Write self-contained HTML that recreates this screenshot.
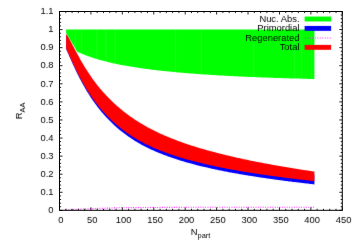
<!DOCTYPE html>
<html><head><meta charset="utf-8"><title>RAA</title>
<style>
html,body{margin:0;padding:0;background:#fff;}
body{width:357px;height:250px;overflow:hidden;}
svg{display:block;}
text{font-family:"Liberation Sans",sans-serif;font-size:9.4px;fill:#000;}
</style></head><body>
<svg width="357" height="250" viewBox="0 0 357 250">
<defs><filter id="b" x="0" y="0" width="357" height="250" filterUnits="userSpaceOnUse" color-interpolation-filters="sRGB"><feConvolveMatrix order="3" kernelMatrix="0.0053 0.0619 0.0053 0.0619 0.7312 0.0619 0.0053 0.0619 0.0053" divisor="1" edgeMode="none" preserveAlpha="false"/></filter></defs>
<rect width="357" height="250" fill="#fff"/>
<g filter="url(#b)">
<polygon points="66.1,29.6 67.0,29.6 68.0,29.6 69.0,29.6 70.0,29.6 71.0,29.6 72.0,29.6 73.0,29.6 74.0,29.6 75.0,29.6 76.0,29.6 77.0,29.6 78.0,29.6 79.0,29.6 80.0,29.6 81.0,29.6 82.0,29.6 83.0,29.6 84.0,29.6 85.0,29.6 86.0,29.6 87.0,29.6 88.0,29.6 89.0,29.6 90.0,29.6 91.0,29.6 92.0,29.6 93.0,29.6 94.0,29.6 95.0,29.6 96.0,29.6 97.0,29.6 98.0,29.6 99.0,29.6 100.0,29.6 101.0,29.6 102.0,29.6 103.0,29.6 104.0,29.6 105.0,29.6 106.0,29.6 107.0,29.6 108.0,29.6 109.0,29.6 110.0,29.6 111.0,29.6 112.0,29.6 113.0,29.6 114.0,29.6 115.0,29.6 116.0,29.6 117.0,29.6 118.0,29.6 119.0,29.6 120.0,29.6 121.0,29.6 122.0,29.6 123.0,29.6 124.0,29.6 125.0,29.6 126.0,29.6 127.0,29.6 128.0,29.6 129.0,29.6 130.0,29.6 131.0,29.6 132.0,29.6 133.0,29.6 134.0,29.6 135.0,29.6 136.0,29.6 137.0,29.6 138.0,29.6 139.0,29.6 140.0,29.6 141.0,29.6 142.0,29.6 143.0,29.6 144.0,29.6 145.0,29.6 146.0,29.6 147.0,29.6 148.0,29.6 149.0,29.6 150.0,29.6 151.0,29.6 152.0,29.6 153.0,29.6 154.0,29.6 155.0,29.6 156.0,29.6 157.0,29.6 158.0,29.6 159.0,29.6 160.0,29.6 161.0,29.6 162.0,29.6 163.0,29.6 164.0,29.6 165.0,29.6 166.0,29.6 167.0,29.6 168.0,29.6 169.0,29.6 170.0,29.6 171.0,29.6 172.0,29.6 173.0,29.6 174.0,29.6 175.0,29.6 176.0,29.6 177.0,29.6 178.0,29.6 179.0,29.6 180.0,29.6 181.0,29.6 182.0,29.6 183.0,29.6 184.0,29.6 185.0,29.6 186.0,29.6 187.0,29.6 188.0,29.6 189.0,29.6 190.0,29.6 191.0,29.6 192.0,29.6 193.0,29.6 194.0,29.6 195.0,29.6 196.0,29.6 197.0,29.6 198.0,29.6 199.0,29.6 200.0,29.6 201.0,29.6 202.0,29.6 203.0,29.6 204.0,29.6 205.0,29.6 206.0,29.6 207.0,29.6 208.0,29.6 209.0,29.6 210.0,29.6 211.0,29.6 212.0,29.6 213.0,29.6 214.0,29.6 215.0,29.6 216.0,29.6 217.0,29.6 218.0,29.6 219.0,29.6 220.0,29.6 221.0,29.6 222.0,29.6 223.0,29.6 224.0,29.6 225.0,29.6 226.0,29.6 227.0,29.6 228.0,29.6 229.0,29.6 230.0,29.6 231.0,29.6 232.0,29.6 233.0,29.6 234.0,29.6 235.0,29.6 236.0,29.6 237.0,29.6 238.0,29.6 239.0,29.6 240.0,29.6 241.0,29.6 242.0,29.6 243.0,29.6 244.0,29.6 245.0,29.6 246.0,29.6 247.0,29.6 248.0,29.6 249.0,29.6 250.0,29.6 251.0,29.6 252.0,29.6 253.0,29.6 254.0,29.6 255.0,29.6 256.0,29.6 257.0,29.6 258.0,29.6 259.0,29.6 260.0,29.6 261.0,29.6 262.0,29.6 263.0,29.6 264.0,29.6 265.0,29.6 266.0,29.6 267.0,29.6 268.0,29.6 269.0,29.6 270.0,29.6 271.0,29.6 272.0,29.6 273.0,29.6 274.0,29.6 275.0,29.6 276.0,29.6 277.0,29.6 278.0,29.6 279.0,29.6 280.0,29.6 281.0,29.6 282.0,29.6 283.0,29.6 284.0,29.6 285.0,29.6 286.0,29.6 287.0,29.6 288.0,29.6 289.0,29.6 290.0,29.6 291.0,29.6 292.0,29.6 293.0,29.6 294.0,29.6 295.0,29.6 296.0,29.6 297.0,29.6 298.0,29.6 299.0,29.6 300.0,29.6 301.0,29.6 302.0,29.6 303.0,29.6 304.0,29.6 305.0,29.6 306.0,29.6 307.0,29.6 308.0,29.6 309.0,29.6 310.0,29.6 311.0,29.6 312.0,29.6 313.0,29.6 314.4,29.6 314.4,79.0 313.0,79.0 312.0,79.0 311.0,78.9 310.0,78.9 309.0,78.9 308.0,78.9 307.0,78.8 306.0,78.8 305.0,78.8 304.0,78.8 303.0,78.7 302.0,78.7 301.0,78.7 300.0,78.6 299.0,78.6 298.0,78.6 297.0,78.6 296.0,78.5 295.0,78.5 294.0,78.5 293.0,78.5 292.0,78.4 291.0,78.4 290.0,78.4 289.0,78.3 288.0,78.3 287.0,78.3 286.0,78.2 285.0,78.2 284.0,78.2 283.0,78.2 282.0,78.1 281.0,78.1 280.0,78.1 279.0,78.0 278.0,78.0 277.0,78.0 276.0,77.9 275.0,77.9 274.0,77.9 273.0,77.8 272.0,77.8 271.0,77.8 270.0,77.7 269.0,77.7 268.0,77.6 267.0,77.6 266.0,77.6 265.0,77.5 264.0,77.5 263.0,77.5 262.0,77.4 261.0,77.4 260.0,77.3 259.0,77.3 258.0,77.3 257.0,77.2 256.0,77.2 255.0,77.1 254.0,77.1 253.0,77.1 252.0,77.0 251.0,77.0 250.0,76.9 249.0,76.9 248.0,76.9 247.0,76.8 246.0,76.8 245.0,76.7 244.0,76.7 243.0,76.6 242.0,76.6 241.0,76.5 240.0,76.5 239.0,76.4 238.0,76.4 237.0,76.3 236.0,76.3 235.0,76.2 234.0,76.2 233.0,76.1 232.0,76.1 231.0,76.0 230.0,76.0 229.0,75.9 228.0,75.9 227.0,75.8 226.0,75.8 225.0,75.7 224.0,75.7 223.0,75.6 222.0,75.6 221.0,75.5 220.0,75.4 219.0,75.4 218.0,75.3 217.0,75.3 216.0,75.2 215.0,75.1 214.0,75.1 213.0,75.0 212.0,75.0 211.0,74.9 210.0,74.8 209.0,74.8 208.0,74.7 207.0,74.6 206.0,74.6 205.0,74.5 204.0,74.4 203.0,74.4 202.0,74.3 201.0,74.2 200.0,74.2 199.0,74.1 198.0,74.0 197.0,73.9 196.0,73.9 195.0,73.8 194.0,73.7 193.0,73.6 192.0,73.6 191.0,73.5 190.0,73.4 189.0,73.3 188.0,73.3 187.0,73.2 186.0,73.1 185.0,73.0 184.0,72.9 183.0,72.8 182.0,72.8 181.0,72.7 180.0,72.6 179.0,72.5 178.0,72.4 177.0,72.3 176.0,72.2 175.0,72.1 174.0,72.0 173.0,71.9 172.0,71.8 171.0,71.7 170.0,71.6 169.0,71.5 168.0,71.4 167.0,71.3 166.0,71.2 165.0,71.1 164.0,71.0 163.0,70.9 162.0,70.8 161.0,70.7 160.0,70.6 159.0,70.5 158.0,70.4 157.0,70.3 156.0,70.1 155.0,70.0 154.0,69.9 153.0,69.8 152.0,69.7 151.0,69.5 150.0,69.4 149.0,69.3 148.0,69.1 147.0,69.0 146.0,68.9 145.0,68.7 144.0,68.6 143.0,68.5 142.0,68.3 141.0,68.2 140.0,68.0 139.0,67.9 138.0,67.7 137.0,67.6 136.0,67.4 135.0,67.3 134.0,67.1 133.0,67.0 132.0,66.8 131.0,66.6 130.0,66.5 129.0,66.3 128.0,66.1 127.0,66.0 126.0,65.8 125.0,65.6 124.0,65.4 123.0,65.2 122.0,65.0 121.0,64.9 120.0,64.7 119.0,64.5 118.0,64.3 117.0,64.1 116.0,63.9 115.0,63.6 114.0,63.4 113.0,63.2 112.0,63.0 111.0,62.8 110.0,62.5 109.0,62.3 108.0,62.0 107.0,61.8 106.0,61.6 105.0,61.3 104.0,61.0 103.0,60.8 102.0,60.5 101.0,60.2 100.0,60.0 99.0,59.7 98.0,59.4 97.0,59.1 96.0,58.8 95.0,58.5 94.0,58.2 93.0,57.8 92.0,57.5 91.0,57.2 90.0,56.8 89.0,56.5 88.0,56.1 87.0,55.7 86.0,55.4 85.0,55.0 84.0,54.6 83.0,54.2 82.0,53.8 81.0,53.3 80.0,52.9 79.0,52.4 78.0,52.0 77.0,51.4 76.0,49.7 75.0,48.0 74.0,46.3 73.0,44.6 72.0,43.0 71.0,41.3 70.0,39.6 69.0,37.9 68.0,36.2 67.0,34.5 66.1,33.0" fill="#00ff00"/>
<polygon points="66.1,34.2 67.0,35.6 68.0,37.3 69.0,39.1 70.0,41.0 71.0,42.9 72.0,44.9 73.0,46.8 74.0,48.8 75.0,50.7 76.0,52.6 77.0,54.6 78.0,56.4 79.0,58.3 80.0,60.1 81.0,61.9 82.0,63.7 83.0,65.4 84.0,67.1 85.0,68.8 86.0,70.4 87.0,72.0 88.0,73.6 89.0,75.2 90.0,76.7 91.0,78.2 92.0,79.6 93.0,81.1 94.0,82.5 95.0,83.9 96.0,85.2 97.0,86.5 98.0,87.8 99.0,89.1 100.0,90.4 101.0,91.6 102.0,92.8 103.0,94.0 104.0,95.1 105.0,96.3 106.0,97.4 107.0,98.5 108.0,99.5 109.0,100.6 110.0,101.6 111.0,102.6 112.0,103.6 113.0,104.6 114.0,105.6 115.0,106.5 116.0,107.5 117.0,108.4 118.0,109.3 119.0,110.2 120.0,111.1 121.0,111.9 122.0,112.8 123.0,113.6 124.0,114.4 125.0,115.2 126.0,116.0 127.0,116.7 128.0,117.5 129.0,118.2 130.0,119.0 131.0,119.7 132.0,120.4 133.0,121.1 134.0,121.8 135.0,122.4 136.0,123.1 137.0,123.7 138.0,124.4 139.0,125.0 140.0,125.6 141.0,126.2 142.0,126.8 143.0,127.4 144.0,128.0 145.0,128.6 146.0,129.2 147.0,129.7 148.0,130.3 149.0,130.8 150.0,131.4 151.0,131.9 152.0,132.4 153.0,132.9 154.0,133.4 155.0,133.9 156.0,134.4 157.0,134.9 158.0,135.4 159.0,135.9 160.0,136.3 161.0,136.8 162.0,137.3 163.0,137.7 164.0,138.1 165.0,138.6 166.0,139.0 167.0,139.4 168.0,139.9 169.0,140.3 170.0,140.7 171.0,141.1 172.0,141.5 173.0,141.9 174.0,142.3 175.0,142.7 176.0,143.1 177.0,143.5 178.0,143.8 179.0,144.2 180.0,144.6 181.0,145.0 182.0,145.3 183.0,145.7 184.0,146.0 185.0,146.4 186.0,146.7 187.0,147.1 188.0,147.4 189.0,147.7 190.0,148.1 191.0,148.4 192.0,148.7 193.0,149.1 194.0,149.4 195.0,149.7 196.0,150.0 197.0,150.3 198.0,150.6 199.0,150.9 200.0,151.2 201.0,151.5 202.0,151.8 203.0,152.1 204.0,152.4 205.0,152.7 206.0,153.0 207.0,153.3 208.0,153.6 209.0,153.8 210.0,154.1 211.0,154.4 212.0,154.7 213.0,154.9 214.0,155.2 215.0,155.5 216.0,155.7 217.0,156.0 218.0,156.2 219.0,156.5 220.0,156.7 221.0,157.0 222.0,157.3 223.0,157.5 224.0,157.7 225.0,158.0 226.0,158.2 227.0,158.5 228.0,158.7 229.0,159.0 230.0,159.2 231.0,159.4 232.0,159.7 233.0,159.9 234.0,160.1 235.0,160.4 236.0,160.6 237.0,160.8 238.0,161.0 239.0,161.3 240.0,161.5 241.0,161.7 242.0,161.9 243.0,162.1 244.0,162.3 245.0,162.6 246.0,162.8 247.0,163.0 248.0,163.2 249.0,163.4 250.0,163.6 251.0,163.8 252.0,164.0 253.0,164.2 254.0,164.4 255.0,164.6 256.0,164.8 257.0,165.0 258.0,165.2 259.0,165.4 260.0,165.6 261.0,165.8 262.0,166.0 263.0,166.2 264.0,166.4 265.0,166.6 266.0,166.8 267.0,166.9 268.0,167.1 269.0,167.3 270.0,167.5 271.0,167.7 272.0,167.9 273.0,168.0 274.0,168.2 275.0,168.4 276.0,168.6 277.0,168.8 278.0,168.9 279.0,169.1 280.0,169.3 281.0,169.5 282.0,169.6 283.0,169.8 284.0,170.0 285.0,170.1 286.0,170.3 287.0,170.5 288.0,170.6 289.0,170.8 290.0,171.0 291.0,171.1 292.0,171.3 293.0,171.5 294.0,171.6 295.0,171.8 296.0,172.0 297.0,172.1 298.0,172.3 299.0,172.4 300.0,172.6 301.0,172.7 302.0,172.9 303.0,173.1 304.0,173.2 305.0,173.4 306.0,173.5 307.0,173.7 308.0,173.8 309.0,174.0 310.0,174.1 311.0,174.3 312.0,174.4 313.0,174.6 314.4,174.8 314.4,184.4 313.0,184.2 312.0,184.1 311.0,184.0 310.0,183.9 309.0,183.8 308.0,183.6 307.0,183.5 306.0,183.4 305.0,183.3 304.0,183.2 303.0,183.1 302.0,182.9 301.0,182.8 300.0,182.7 299.0,182.6 298.0,182.5 297.0,182.3 296.0,182.2 295.0,182.1 294.0,182.0 293.0,181.9 292.0,181.7 291.0,181.6 290.0,181.5 289.0,181.4 288.0,181.2 287.0,181.1 286.0,181.0 285.0,180.9 284.0,180.7 283.0,180.6 282.0,180.5 281.0,180.3 280.0,180.2 279.0,180.1 278.0,179.9 277.0,179.8 276.0,179.7 275.0,179.5 274.0,179.4 273.0,179.3 272.0,179.1 271.0,179.0 270.0,178.8 269.0,178.7 268.0,178.6 267.0,178.4 266.0,178.3 265.0,178.1 264.0,178.0 263.0,177.8 262.0,177.7 261.0,177.5 260.0,177.4 259.0,177.2 258.0,177.1 257.0,176.9 256.0,176.8 255.0,176.6 254.0,176.5 253.0,176.3 252.0,176.1 251.0,176.0 250.0,175.8 249.0,175.7 248.0,175.5 247.0,175.3 246.0,175.2 245.0,175.0 244.0,174.8 243.0,174.7 242.0,174.5 241.0,174.3 240.0,174.2 239.0,174.0 238.0,173.8 237.0,173.6 236.0,173.5 235.0,173.3 234.0,173.1 233.0,172.9 232.0,172.7 231.0,172.5 230.0,172.4 229.0,172.2 228.0,172.0 227.0,171.8 226.0,171.6 225.0,171.4 224.0,171.2 223.0,171.0 222.0,170.8 221.0,170.6 220.0,170.4 219.0,170.2 218.0,170.0 217.0,169.8 216.0,169.6 215.0,169.4 214.0,169.1 213.0,168.9 212.0,168.7 211.0,168.5 210.0,168.3 209.0,168.0 208.0,167.8 207.0,167.6 206.0,167.3 205.0,167.1 204.0,166.9 203.0,166.6 202.0,166.4 201.0,166.2 200.0,165.9 199.0,165.7 198.0,165.4 197.0,165.2 196.0,164.9 195.0,164.6 194.0,164.4 193.0,164.1 192.0,163.8 191.0,163.6 190.0,163.3 189.0,163.0 188.0,162.7 187.0,162.5 186.0,162.2 185.0,161.9 184.0,161.6 183.0,161.3 182.0,161.0 181.0,160.7 180.0,160.4 179.0,160.1 178.0,159.8 177.0,159.4 176.0,159.1 175.0,158.8 174.0,158.5 173.0,158.1 172.0,157.8 171.0,157.4 170.0,157.1 169.0,156.7 168.0,156.4 167.0,156.0 166.0,155.6 165.0,155.3 164.0,154.9 163.0,154.5 162.0,154.1 161.0,153.7 160.0,153.3 159.0,152.9 158.0,152.5 157.0,152.1 156.0,151.7 155.0,151.2 154.0,150.8 153.0,150.3 152.0,149.9 151.0,149.4 150.0,148.9 149.0,148.5 148.0,148.0 147.0,147.5 146.0,147.0 145.0,146.5 144.0,146.0 143.0,145.4 142.0,144.9 141.0,144.4 140.0,143.8 139.0,143.2 138.0,142.7 137.0,142.1 136.0,141.5 135.0,140.9 134.0,140.2 133.0,139.6 132.0,139.0 131.0,138.3 130.0,137.6 129.0,137.0 128.0,136.3 127.0,135.6 126.0,134.8 125.0,134.1 124.0,133.3 123.0,132.6 122.0,131.8 121.0,131.0 120.0,130.2 119.0,129.4 118.0,128.5 117.0,127.7 116.0,126.8 115.0,125.9 114.0,125.0 113.0,124.0 112.0,123.1 111.0,122.1 110.0,121.1 109.0,120.1 108.0,119.1 107.0,118.0 106.0,116.9 105.0,115.8 104.0,114.7 103.0,113.6 102.0,112.4 101.0,111.2 100.0,110.0 99.0,108.7 98.0,107.5 97.0,106.2 96.0,104.8 95.0,103.5 94.0,102.1 93.0,100.7 92.0,99.2 91.0,97.7 90.0,96.2 89.0,94.6 88.0,93.0 87.0,91.4 86.0,89.7 85.0,88.0 84.0,86.3 83.0,84.5 82.0,82.7 81.0,80.8 80.0,78.9 79.0,77.0 78.0,75.0 77.0,72.9 76.0,70.9 75.0,68.8 74.0,66.6 73.0,64.4 72.0,62.2 71.0,60.0 70.0,57.7 69.0,55.4 68.0,53.1 67.0,50.9 66.1,48.8" fill="#0000ff"/>
<polyline points="66.1,210.0 67.0,209.9 68.0,209.8 69.0,209.8 70.0,209.7 71.0,209.6 72.0,209.5 73.0,209.5 74.0,209.4 75.0,209.3 76.0,209.3 77.0,209.3 78.0,209.2 79.0,209.2 80.0,209.1 81.0,209.1 82.0,209.1 83.0,209.0 84.0,209.0 85.0,209.0 86.0,208.9 87.0,208.9 88.0,208.8 89.0,208.8 90.0,208.8 91.0,208.7 92.0,208.7 93.0,208.6 94.0,208.6 95.0,208.5 96.0,208.5 97.0,208.5 98.0,208.4 99.0,208.4 100.0,208.3 101.0,208.3 102.0,208.3 103.0,208.3 104.0,208.2 105.0,208.2 106.0,208.2 107.0,208.1 108.0,208.1 109.0,208.1 110.0,208.1 111.0,208.0 112.0,208.0 113.0,208.0 114.0,207.9 115.0,207.9 116.0,207.9 117.0,207.9 118.0,207.8 119.0,207.8 120.0,207.8 121.0,207.8 122.0,207.7 123.0,207.7 124.0,207.7 125.0,207.7 126.0,207.7 127.0,207.7 128.0,207.7 129.0,207.6 130.0,207.6 131.0,207.6 132.0,207.6 133.0,207.6 134.0,207.6 135.0,207.6 136.0,207.6 137.0,207.6 138.0,207.6 139.0,207.6 140.0,207.6 141.0,207.6 142.0,207.5 143.0,207.5 144.0,207.5 145.0,207.5 146.0,207.5 147.0,207.5 148.0,207.5 149.0,207.5 150.0,207.5 151.0,207.5 152.0,207.5 153.0,207.5 154.0,207.5 155.0,207.5 156.0,207.5 157.0,207.5 158.0,207.5 159.0,207.5 160.0,207.4 161.0,207.4 162.0,207.4 163.0,207.4 164.0,207.4 165.0,207.4 166.0,207.4 167.0,207.4 168.0,207.4 169.0,207.4 170.0,207.4 171.0,207.4 172.0,207.4 173.0,207.4 174.0,207.4 175.0,207.4 176.0,207.4 177.0,207.4 178.0,207.4 179.0,207.4 180.0,207.3 181.0,207.3 182.0,207.3 183.0,207.3 184.0,207.3 185.0,207.3 186.0,207.3 187.0,207.3 188.0,207.3 189.0,207.3 190.0,207.3 191.0,207.3 192.0,207.3 193.0,207.3 194.0,207.3 195.0,207.3 196.0,207.3 197.0,207.3 198.0,207.3 199.0,207.3 200.0,207.3 201.0,207.3 202.0,207.3 203.0,207.3 204.0,207.3 205.0,207.3 206.0,207.3 207.0,207.3 208.0,207.3 209.0,207.3 210.0,207.3 211.0,207.3 212.0,207.2 213.0,207.2 214.0,207.2 215.0,207.2 216.0,207.2 217.0,207.2 218.0,207.2 219.0,207.2 220.0,207.2 221.0,207.2 222.0,207.2 223.0,207.2 224.0,207.2 225.0,207.2 226.0,207.2 227.0,207.2 228.0,207.2 229.0,207.2 230.0,207.2 231.0,207.2 232.0,207.2 233.0,207.2 234.0,207.2 235.0,207.2 236.0,207.2 237.0,207.2 238.0,207.2 239.0,207.2 240.0,207.2 241.0,207.2 242.0,207.2 243.0,207.2 244.0,207.2 245.0,207.2 246.0,207.2 247.0,207.2 248.0,207.2 249.0,207.2 250.0,207.2 251.0,207.2 252.0,207.2 253.0,207.2 254.0,207.2 255.0,207.2 256.0,207.2 257.0,207.2 258.0,207.2 259.0,207.2 260.0,207.2 261.0,207.2 262.0,207.2 263.0,207.2 264.0,207.2 265.0,207.2 266.0,207.2 267.0,207.2 268.0,207.2 269.0,207.2 270.0,207.2 271.0,207.2 272.0,207.2 273.0,207.2 274.0,207.2 275.0,207.2 276.0,207.2 277.0,207.2 278.0,207.2 279.0,207.2 280.0,207.2 281.0,207.2 282.0,207.2 283.0,207.2 284.0,207.2 285.0,207.2 286.0,207.2 287.0,207.2 288.0,207.2 289.0,207.2 290.0,207.2 291.0,207.2 292.0,207.2 293.0,207.2 294.0,207.2 295.0,207.2 296.0,207.2 297.0,207.2 298.0,207.2 299.0,207.2 300.0,207.2 301.0,207.2 302.0,207.2 303.0,207.2 304.0,207.2 305.0,207.2 306.0,207.2 307.0,207.2 308.0,207.2 309.0,207.2 310.0,207.2 311.0,207.2 312.0,207.2 313.0,207.2 314.4,207.2" fill="none" stroke="#ff00ff" stroke-width="1.1" stroke-dasharray="0.9 1.5"/>
<polygon points="66.1,33.9 67.0,35.2 68.0,36.8 69.0,38.5 70.0,40.3 71.0,42.2 72.0,44.0 73.0,45.9 74.0,47.8 75.0,49.7 76.0,51.6 77.0,53.5 78.0,55.3 79.0,57.1 80.0,58.9 81.0,60.7 82.0,62.4 83.0,64.1 84.0,65.8 85.0,67.4 86.0,69.0 87.0,70.6 88.0,72.1 89.0,73.6 90.0,75.1 91.0,76.5 92.0,78.0 93.0,79.4 94.0,80.7 95.0,82.1 96.0,83.4 97.0,84.7 98.0,85.9 99.0,87.2 100.0,88.4 101.0,89.6 102.0,90.7 103.0,91.9 104.0,93.0 105.0,94.1 106.0,95.2 107.0,96.3 108.0,97.3 109.0,98.3 110.0,99.3 111.0,100.3 112.0,101.3 113.0,102.2 114.0,103.2 115.0,104.1 116.0,105.0 117.0,105.9 118.0,106.8 119.0,107.6 120.0,108.5 121.0,109.3 122.0,110.1 123.0,110.9 124.0,111.7 125.0,112.5 126.0,113.3 127.0,114.0 128.0,114.8 129.0,115.5 130.0,116.2 131.0,116.9 132.0,117.6 133.0,118.3 134.0,119.0 135.0,119.7 136.0,120.3 137.0,121.0 138.0,121.6 139.0,122.2 140.0,122.8 141.0,123.4 142.0,124.0 143.0,124.6 144.0,125.2 145.0,125.8 146.0,126.3 147.0,126.9 148.0,127.4 149.0,128.0 150.0,128.5 151.0,129.0 152.0,129.6 153.0,130.1 154.0,130.6 155.0,131.1 156.0,131.5 157.0,132.0 158.0,132.5 159.0,133.0 160.0,133.4 161.0,133.9 162.0,134.3 163.0,134.8 164.0,135.2 165.0,135.7 166.0,136.1 167.0,136.5 168.0,136.9 169.0,137.3 170.0,137.7 171.0,138.2 172.0,138.6 173.0,138.9 174.0,139.3 175.0,139.7 176.0,140.1 177.0,140.5 178.0,140.9 179.0,141.2 180.0,141.6 181.0,141.9 182.0,142.3 183.0,142.7 184.0,143.0 185.0,143.4 186.0,143.7 187.0,144.0 188.0,144.4 189.0,144.7 190.0,145.0 191.0,145.4 192.0,145.7 193.0,146.0 194.0,146.3 195.0,146.6 196.0,146.9 197.0,147.2 198.0,147.6 199.0,147.9 200.0,148.2 201.0,148.5 202.0,148.7 203.0,149.0 204.0,149.3 205.0,149.6 206.0,149.9 207.0,150.2 208.0,150.5 209.0,150.7 210.0,151.0 211.0,151.3 212.0,151.6 213.0,151.8 214.0,152.1 215.0,152.3 216.0,152.6 217.0,152.9 218.0,153.1 219.0,153.4 220.0,153.6 221.0,153.9 222.0,154.1 223.0,154.4 224.0,154.6 225.0,154.9 226.0,155.1 227.0,155.4 228.0,155.6 229.0,155.8 230.0,156.1 231.0,156.3 232.0,156.5 233.0,156.8 234.0,157.0 235.0,157.2 236.0,157.4 237.0,157.7 238.0,157.9 239.0,158.1 240.0,158.3 241.0,158.6 242.0,158.8 243.0,159.0 244.0,159.2 245.0,159.4 246.0,159.6 247.0,159.8 248.0,160.0 249.0,160.2 250.0,160.5 251.0,160.7 252.0,160.9 253.0,161.1 254.0,161.3 255.0,161.5 256.0,161.7 257.0,161.9 258.0,162.1 259.0,162.2 260.0,162.4 261.0,162.6 262.0,162.8 263.0,163.0 264.0,163.2 265.0,163.4 266.0,163.6 267.0,163.8 268.0,164.0 269.0,164.1 270.0,164.3 271.0,164.5 272.0,164.7 273.0,164.9 274.0,165.0 275.0,165.2 276.0,165.4 277.0,165.6 278.0,165.7 279.0,165.9 280.0,166.1 281.0,166.3 282.0,166.4 283.0,166.6 284.0,166.8 285.0,167.0 286.0,167.1 287.0,167.3 288.0,167.5 289.0,167.6 290.0,167.8 291.0,167.9 292.0,168.1 293.0,168.3 294.0,168.4 295.0,168.6 296.0,168.8 297.0,168.9 298.0,169.1 299.0,169.2 300.0,169.4 301.0,169.5 302.0,169.7 303.0,169.9 304.0,170.0 305.0,170.2 306.0,170.3 307.0,170.5 308.0,170.6 309.0,170.8 310.0,170.9 311.0,171.1 312.0,171.2 313.0,171.4 314.4,171.6 314.4,181.2 313.0,181.0 312.0,180.9 311.0,180.8 310.0,180.7 309.0,180.6 308.0,180.4 307.0,180.3 306.0,180.2 305.0,180.1 304.0,180.0 303.0,179.9 302.0,179.7 301.0,179.6 300.0,179.5 299.0,179.4 298.0,179.3 297.0,179.2 296.0,179.0 295.0,178.9 294.0,178.8 293.0,178.7 292.0,178.5 291.0,178.4 290.0,178.3 289.0,178.2 288.0,178.0 287.0,177.9 286.0,177.8 285.0,177.7 284.0,177.5 283.0,177.4 282.0,177.3 281.0,177.1 280.0,177.0 279.0,176.9 278.0,176.7 277.0,176.6 276.0,176.5 275.0,176.3 274.0,176.2 273.0,176.1 272.0,175.9 271.0,175.8 270.0,175.7 269.0,175.5 268.0,175.4 267.0,175.2 266.0,175.1 265.0,174.9 264.0,174.8 263.0,174.7 262.0,174.5 261.0,174.4 260.0,174.2 259.0,174.1 258.0,173.9 257.0,173.8 256.0,173.6 255.0,173.5 254.0,173.3 253.0,173.1 252.0,173.0 251.0,172.8 250.0,172.7 249.0,172.5 248.0,172.3 247.0,172.2 246.0,172.0 245.0,171.9 244.0,171.7 243.0,171.5 242.0,171.4 241.0,171.2 240.0,171.0 239.0,170.8 238.0,170.7 237.0,170.5 236.0,170.3 235.0,170.1 234.0,170.0 233.0,169.8 232.0,169.6 231.0,169.4 230.0,169.2 229.0,169.0 228.0,168.9 227.0,168.7 226.0,168.5 225.0,168.3 224.0,168.1 223.0,167.9 222.0,167.7 221.0,167.5 220.0,167.3 219.0,167.1 218.0,166.9 217.0,166.7 216.0,166.5 215.0,166.3 214.0,166.0 213.0,165.8 212.0,165.6 211.0,165.4 210.0,165.2 209.0,164.9 208.0,164.7 207.0,164.5 206.0,164.3 205.0,164.0 204.0,163.8 203.0,163.6 202.0,163.3 201.0,163.1 200.0,162.8 199.0,162.6 198.0,162.3 197.0,162.1 196.0,161.8 195.0,161.6 194.0,161.3 193.0,161.1 192.0,160.8 191.0,160.5 190.0,160.3 189.0,160.0 188.0,159.7 187.0,159.4 186.0,159.2 185.0,158.9 184.0,158.6 183.0,158.3 182.0,158.0 181.0,157.7 180.0,157.4 179.0,157.1 178.0,156.8 177.0,156.5 176.0,156.1 175.0,155.8 174.0,155.5 173.0,155.2 172.0,154.8 171.0,154.5 170.0,154.1 169.0,153.8 168.0,153.4 167.0,153.1 166.0,152.7 165.0,152.3 164.0,152.0 163.0,151.6 162.0,151.2 161.0,150.8 160.0,150.4 159.0,150.0 158.0,149.6 157.0,149.2 156.0,148.8 155.0,148.3 154.0,147.9 153.0,147.5 152.0,147.0 151.0,146.6 150.0,146.1 149.0,145.6 148.0,145.1 147.0,144.7 146.0,144.2 145.0,143.7 144.0,143.2 143.0,142.6 142.0,142.1 141.0,141.6 140.0,141.0 139.0,140.5 138.0,139.9 137.0,139.3 136.0,138.7 135.0,138.1 134.0,137.5 133.0,136.9 132.0,136.2 131.0,135.6 130.0,134.9 129.0,134.3 128.0,133.6 127.0,132.9 126.0,132.2 125.0,131.4 124.0,130.7 123.0,129.9 122.0,129.2 121.0,128.4 120.0,127.6 119.0,126.8 118.0,126.0 117.0,125.2 116.0,124.3 115.0,123.4 114.0,122.6 113.0,121.7 112.0,120.7 111.0,119.8 110.0,118.8 109.0,117.8 108.0,116.8 107.0,115.8 106.0,114.8 105.0,113.7 104.0,112.6 103.0,111.5 102.0,110.3 101.0,109.2 100.0,108.0 99.0,106.8 98.0,105.5 97.0,104.3 96.0,103.0 95.0,101.7 94.0,100.3 93.0,98.9 92.0,97.5 91.0,96.1 90.0,94.6 89.0,93.1 88.0,91.5 87.0,89.9 86.0,88.3 85.0,86.6 84.0,84.9 83.0,83.2 82.0,81.4 81.0,79.6 80.0,77.7 79.0,75.8 78.0,73.8 77.0,71.9 76.0,69.8 75.0,67.8 74.0,65.7 73.0,63.5 72.0,61.4 71.0,59.2 70.0,57.0 69.0,54.8 68.0,52.6 67.0,50.4 66.1,48.5" fill="#ff0000"/>
<path d="M75.3,29.9V48.2" stroke="#fff" stroke-opacity="0.16" stroke-width="0.7"/><path d="M75.3,50.7V68.2" stroke="#4040ff" stroke-opacity="0.14" stroke-width="0.7"/><path d="M81.8,29.9V53.4" stroke="#fff" stroke-opacity="0.16" stroke-width="0.7"/><path d="M81.8,62.5V80.8" stroke="#4040ff" stroke-opacity="0.14" stroke-width="0.7"/><path d="M97.0,29.9V58.8" stroke="#fff" stroke-opacity="0.16" stroke-width="0.7"/><path d="M97.0,85.1V104.1" stroke="#4040ff" stroke-opacity="0.14" stroke-width="0.7"/><path d="M106.0,29.9V61.3" stroke="#fff" stroke-opacity="0.16" stroke-width="0.7"/><path d="M106.0,95.6V114.6" stroke="#4040ff" stroke-opacity="0.14" stroke-width="0.7"/><path d="M115.2,29.9V63.4" stroke="#fff" stroke-opacity="0.16" stroke-width="0.7"/><path d="M115.2,104.7V123.4" stroke="#4040ff" stroke-opacity="0.14" stroke-width="0.7"/><path d="M175.5,29.9V71.9" stroke="#fff" stroke-opacity="0.16" stroke-width="0.7"/><path d="M175.5,140.3V155.8" stroke="#4040ff" stroke-opacity="0.14" stroke-width="0.7"/><path d="M201.3,29.9V74.0" stroke="#fff" stroke-opacity="0.16" stroke-width="0.7"/><path d="M201.3,148.9V163.0" stroke="#4040ff" stroke-opacity="0.14" stroke-width="0.7"/><path d="M253.8,29.9V76.8" stroke="#fff" stroke-opacity="0.16" stroke-width="0.7"/><path d="M253.8,161.6V173.1" stroke="#4040ff" stroke-opacity="0.14" stroke-width="0.7"/><path d="M294.7,29.9V78.2" stroke="#fff" stroke-opacity="0.16" stroke-width="0.7"/><path d="M294.7,168.9V178.7" stroke="#4040ff" stroke-opacity="0.14" stroke-width="0.7"/><path d="M301.7,29.9V78.4" stroke="#fff" stroke-opacity="0.16" stroke-width="0.7"/><path d="M301.7,170.1V179.5" stroke="#4040ff" stroke-opacity="0.14" stroke-width="0.7"/><path d="M311.3,29.9V78.6" stroke="#fff" stroke-opacity="0.16" stroke-width="0.7"/><path d="M311.3,171.5V180.6" stroke="#4040ff" stroke-opacity="0.14" stroke-width="0.7"/>
</g>
<g>
<path d="M59.50,210.35v-3.0M59.50,11.5v3.0M65.78,210.35v-1.6M65.78,11.5v1.6M72.07,210.35v-1.6M72.07,11.5v1.6M78.35,210.35v-1.6M78.35,11.5v1.6M84.64,210.35v-1.6M84.64,11.5v1.6M90.92,210.35v-3.0M90.92,11.5v3.0M97.21,210.35v-1.6M97.21,11.5v1.6M103.49,210.35v-1.6M103.49,11.5v1.6M109.78,210.35v-1.6M109.78,11.5v1.6M116.06,210.35v-1.6M116.06,11.5v1.6M122.34,210.35v-3.0M122.34,11.5v3.0M128.63,210.35v-1.6M128.63,11.5v1.6M134.91,210.35v-1.6M134.91,11.5v1.6M141.20,210.35v-1.6M141.20,11.5v1.6M147.48,210.35v-1.6M147.48,11.5v1.6M153.77,210.35v-3.0M153.77,11.5v3.0M160.05,210.35v-1.6M160.05,11.5v1.6M166.34,210.35v-1.6M166.34,11.5v1.6M172.62,210.35v-1.6M172.62,11.5v1.6M178.90,210.35v-1.6M178.90,11.5v1.6M185.19,210.35v-3.0M185.19,11.5v3.0M191.47,210.35v-1.6M191.47,11.5v1.6M197.76,210.35v-1.6M197.76,11.5v1.6M204.04,210.35v-1.6M204.04,11.5v1.6M210.33,210.35v-1.6M210.33,11.5v1.6M216.61,210.35v-3.0M216.61,11.5v3.0M222.90,210.35v-1.6M222.90,11.5v1.6M229.18,210.35v-1.6M229.18,11.5v1.6M235.46,210.35v-1.6M235.46,11.5v1.6M241.75,210.35v-1.6M241.75,11.5v1.6M248.03,210.35v-3.0M248.03,11.5v3.0M254.32,210.35v-1.6M254.32,11.5v1.6M260.60,210.35v-1.6M260.60,11.5v1.6M266.89,210.35v-1.6M266.89,11.5v1.6M273.17,210.35v-1.6M273.17,11.5v1.6M279.46,210.35v-3.0M279.46,11.5v3.0M285.74,210.35v-1.6M285.74,11.5v1.6M292.02,210.35v-1.6M292.02,11.5v1.6M298.31,210.35v-1.6M298.31,11.5v1.6M304.59,210.35v-1.6M304.59,11.5v1.6M310.88,210.35v-3.0M310.88,11.5v3.0M317.16,210.35v-1.6M317.16,11.5v1.6M323.45,210.35v-1.6M323.45,11.5v1.6M329.73,210.35v-1.6M329.73,11.5v1.6M336.02,210.35v-1.6M336.02,11.5v1.6M342.30,210.35v-3.0M342.30,11.5v3.0M59.5,210.35h3.0M342.3,210.35h-3.0M59.5,206.73h1.6M342.3,206.73h-1.6M59.5,203.12h1.6M342.3,203.12h-1.6M59.5,199.50h1.6M342.3,199.50h-1.6M59.5,195.89h1.6M342.3,195.89h-1.6M59.5,192.27h3.0M342.3,192.27h-3.0M59.5,188.66h1.6M342.3,188.66h-1.6M59.5,185.04h1.6M342.3,185.04h-1.6M59.5,181.43h1.6M342.3,181.43h-1.6M59.5,177.81h1.6M342.3,177.81h-1.6M59.5,174.20h3.0M342.3,174.20h-3.0M59.5,170.58h1.6M342.3,170.58h-1.6M59.5,166.96h1.6M342.3,166.96h-1.6M59.5,163.35h1.6M342.3,163.35h-1.6M59.5,159.73h1.6M342.3,159.73h-1.6M59.5,156.12h3.0M342.3,156.12h-3.0M59.5,152.50h1.6M342.3,152.50h-1.6M59.5,148.89h1.6M342.3,148.89h-1.6M59.5,145.27h1.6M342.3,145.27h-1.6M59.5,141.66h1.6M342.3,141.66h-1.6M59.5,138.04h3.0M342.3,138.04h-3.0M59.5,134.43h1.6M342.3,134.43h-1.6M59.5,130.81h1.6M342.3,130.81h-1.6M59.5,127.19h1.6M342.3,127.19h-1.6M59.5,123.58h1.6M342.3,123.58h-1.6M59.5,119.96h3.0M342.3,119.96h-3.0M59.5,116.35h1.6M342.3,116.35h-1.6M59.5,112.73h1.6M342.3,112.73h-1.6M59.5,109.12h1.6M342.3,109.12h-1.6M59.5,105.50h1.6M342.3,105.50h-1.6M59.5,101.89h3.0M342.3,101.89h-3.0M59.5,98.27h1.6M342.3,98.27h-1.6M59.5,94.66h1.6M342.3,94.66h-1.6M59.5,91.04h1.6M342.3,91.04h-1.6M59.5,87.42h1.6M342.3,87.42h-1.6M59.5,83.81h3.0M342.3,83.81h-3.0M59.5,80.19h1.6M342.3,80.19h-1.6M59.5,76.58h1.6M342.3,76.58h-1.6M59.5,72.96h1.6M342.3,72.96h-1.6M59.5,69.35h1.6M342.3,69.35h-1.6M59.5,65.73h3.0M342.3,65.73h-3.0M59.5,62.12h1.6M342.3,62.12h-1.6M59.5,58.50h1.6M342.3,58.50h-1.6M59.5,54.89h1.6M342.3,54.89h-1.6M59.5,51.27h1.6M342.3,51.27h-1.6M59.5,47.65h3.0M342.3,47.65h-3.0M59.5,44.04h1.6M342.3,44.04h-1.6M59.5,40.42h1.6M342.3,40.42h-1.6M59.5,36.81h1.6M342.3,36.81h-1.6M59.5,33.19h1.6M342.3,33.19h-1.6M59.5,29.58h3.0M342.3,29.58h-3.0M59.5,25.96h1.6M342.3,25.96h-1.6M59.5,22.35h1.6M342.3,22.35h-1.6M59.5,18.73h1.6M342.3,18.73h-1.6M59.5,15.12h1.6M342.3,15.12h-1.6M59.5,11.50h3.0M342.3,11.50h-3.0" stroke="#000" stroke-width="0.85" fill="none"/>
<rect x="59.5" y="11.5" width="282.8" height="198.8" fill="none" stroke="#000" stroke-width="1"/>
</g>
<g filter="url(#b)">
<rect x="304.6" y="16.55" width="26.5" height="4.9" fill="#00ff00"/><rect x="304.6" y="25.95" width="26.5" height="4.9" fill="#0000ff"/><path d="M304.8,38.05H331.2" stroke="#ff00ff" stroke-width="1.1" stroke-dasharray="0.9 1.6" fill="none"/><rect x="304.6" y="44.90" width="26.5" height="4.9" fill="#ff0000"/><path d="M305.2,27.9H331" stroke="#0000a0" stroke-opacity="0.45" stroke-width="1.6" stroke-dasharray="1 1.5" fill="none"/>
<g>
<text x="60.8" y="223" text-anchor="middle">0</text><text x="92.2" y="223" text-anchor="middle">50</text><text x="123.6" y="223" text-anchor="middle">100</text><text x="155.1" y="223" text-anchor="middle">150</text><text x="186.5" y="223" text-anchor="middle">200</text><text x="217.9" y="223" text-anchor="middle">250</text><text x="249.3" y="223" text-anchor="middle">300</text><text x="280.8" y="223" text-anchor="middle">350</text><text x="312.2" y="223" text-anchor="middle">400</text><text x="343.6" y="223" text-anchor="middle">450</text><text x="53.5" y="213.0" text-anchor="end">0</text><text x="53.5" y="195.0" text-anchor="end">0.1</text><text x="53.5" y="176.9" text-anchor="end">0.2</text><text x="53.5" y="158.8" text-anchor="end">0.3</text><text x="53.5" y="140.7" text-anchor="end">0.4</text><text x="53.5" y="122.7" text-anchor="end">0.5</text><text x="53.5" y="104.6" text-anchor="end">0.6</text><text x="53.5" y="86.5" text-anchor="end">0.7</text><text x="53.5" y="68.4" text-anchor="end">0.8</text><text x="53.5" y="50.4" text-anchor="end">0.9</text><text x="53.5" y="32.3" text-anchor="end">1</text><text x="53.5" y="14.2" text-anchor="end">1.1</text>
<text x="299.5" y="22.0" text-anchor="end">Nuc. Abs.</text><text x="299.5" y="31.4" text-anchor="end">Primordial</text><text x="299.5" y="41.0" text-anchor="end">Regenerated</text><text x="299.5" y="50.4" text-anchor="end">Total</text>
<text transform="translate(22.0,119.2) rotate(-90)">R<tspan font-size="7.4" dy="2.8">AA</tspan></text>
<text x="190.8" y="235.1">N<tspan font-size="7.4" dy="3.2">part</tspan></text>
</g>
</g>
</svg>
</body></html>
